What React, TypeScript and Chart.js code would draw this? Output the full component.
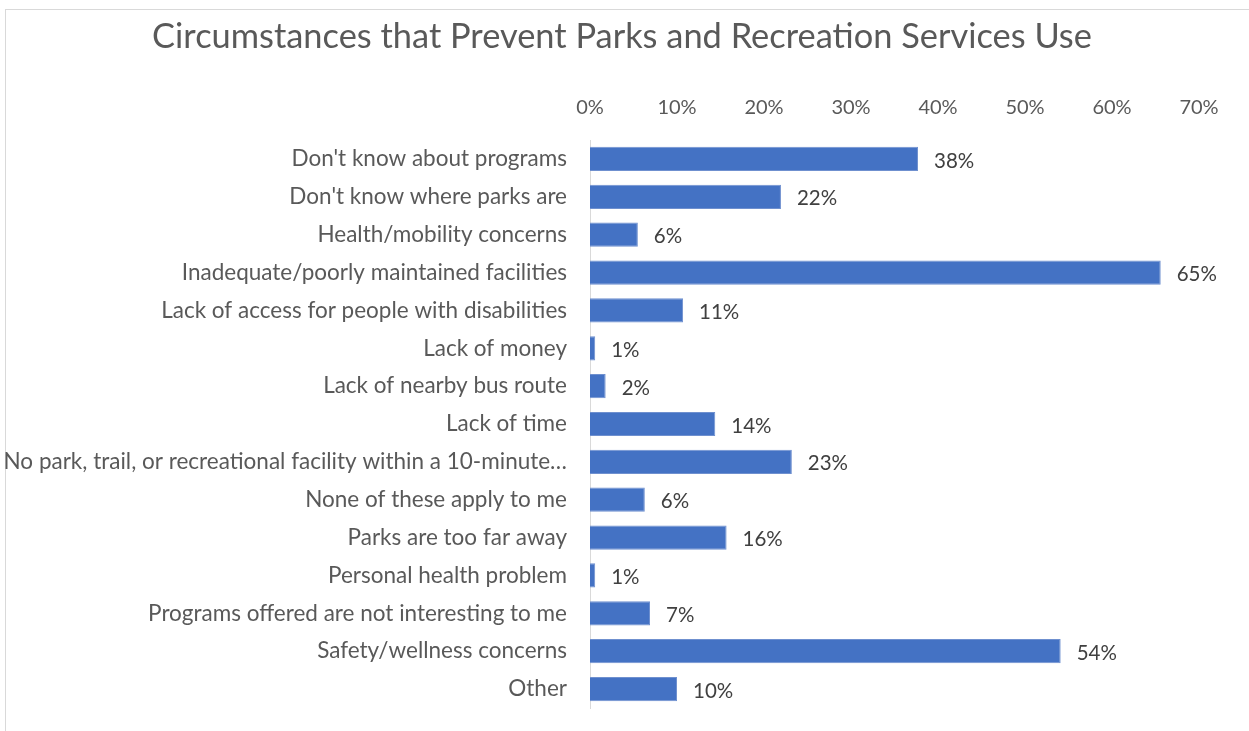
import React, { useEffect, useRef } from "react";
import { Chart, registerables } from "chart.js";

Chart.register(...registerables);

const chartTitle = "Circumstances that Prevent Parks and Recreation Services Use";
const categories = [
  "Don't know about programs",
  "Don't know where parks are",
  "Health/mobility concerns",
  "Inadequate/poorly maintained facilities",
  "Lack of access for people with disabilities",
  "Lack of money",
  "Lack of nearby bus route",
  "Lack of time",
  "No park, trail, or recreational facility within a 10-minute…",
  "None of these apply to me",
  "Parks are too far away",
  "Personal health problem",
  "Programs offered are not interesting to me",
  "Safety/wellness concerns",
  "Other",
];
const values = [37.7, 21.95, 5.5, 65.6, 10.7, 0.6, 1.8, 14.4, 23.2, 6.3, 15.7, 0.6, 6.9, 54.1, 10.0];
const valueLabels = ["38%", "22%", "6%", "65%", "11%", "1%", "2%", "14%", "23%", "6%", "16%", "1%", "7%", "54%", "10%"];
const tickMax = 70;
const tickStep = 10;

const FONT = "Lato, 'Open Sans', sans-serif";

const dataLabelPlugin = {
  id: "dataLabels",
  afterDatasetsDraw(chart: any) {
    const ctx = chart.ctx;
    const meta = chart.getDatasetMeta(0);
    ctx.save();
    ctx.font = `20.5px ${FONT}`;
    ctx.fillStyle = "#404040";
    ctx.textAlign = "left";
    ctx.textBaseline = "middle";
    meta.data.forEach((bar: any, i: number) => {
      ctx.fillText(valueLabels[i], bar.x + 16, bar.y + 2);
    });
    ctx.restore();
  },
};

const titlePlugin = {
  id: "customTitle",
  afterDraw(chart: any) {
    const ctx = chart.ctx;
    ctx.save();
    ctx.font = `34.4px ${FONT}`;
    ctx.fillStyle = "#595959";
    ctx.textAlign = "center";
    ctx.textBaseline = "middle";
    ctx.fillText(chartTitle, 622, 37);
    ctx.restore();
  },
};

export default function App() {
  const ref = useRef<HTMLCanvasElement>(null);
  useEffect(() => {
    document.body.style.margin = "0";
    const chart = new Chart(ref.current!, {
      type: "bar",
      data: {
        labels: categories,
        datasets: [
          {
            data: values,
            backgroundColor: "#4472C4",
            borderColor: "#6f90cf",
            borderWidth: 1,
            barPercentage: 0.64,
            categoryPercentage: 1,
          },
        ],
      },
      options: {
        indexAxis: "y",
        responsive: false,
        animation: false,
        layout: { padding: { left: 0, right: 50, top: 0, bottom: 23 } },
        plugins: {
          legend: { display: false },
          tooltip: { enabled: false },
          title: { display: false },
        },
        scales: {
          x: {
            position: "top",
            min: 0,
            max: tickMax,
            grid: { display: false, drawTicks: false },
            border: { display: false },
            ticks: {
              stepSize: tickStep,
              padding: 20,
              color: "#595959",
              font: { family: FONT, size: 20 },
              callback: (v: any) => v + "%",
            },
            afterFit: (scale: any) => {
              scale.height = 140;
            },
          },
          y: {
            grid: { display: false, drawTicks: false },
            border: { display: true, color: "#d9d9d9", width: 1 },
            ticks: {
              padding: 23,
              color: "#595959",
              font: { family: FONT, size: 22.5 },
              autoSkip: false,
            },
            afterFit: (scale: any) => {
              scale.width = 590;
              scale.paddingTop = 0;
              scale.paddingBottom = 0;
            },
          },
        },
      },
      plugins: [dataLabelPlugin, titlePlugin],
    });
    return () => chart.destroy();
  }, []);
  return (
    <div style={{ position: "relative", width: 1249, height: 731, background: "#fff", overflow: "hidden" }}>
      <div
        style={{
          position: "absolute",
          left: 5,
          top: 9,
          width: 1300,
          height: 800,
          borderLeft: "1px solid #d9d9d9",
          borderTop: "1px solid #d9d9d9",
        }}
      />
      <canvas ref={ref} width={1249} height={731} style={{ position: "absolute", left: 0, top: 0 }} />
    </div>
  );
}
